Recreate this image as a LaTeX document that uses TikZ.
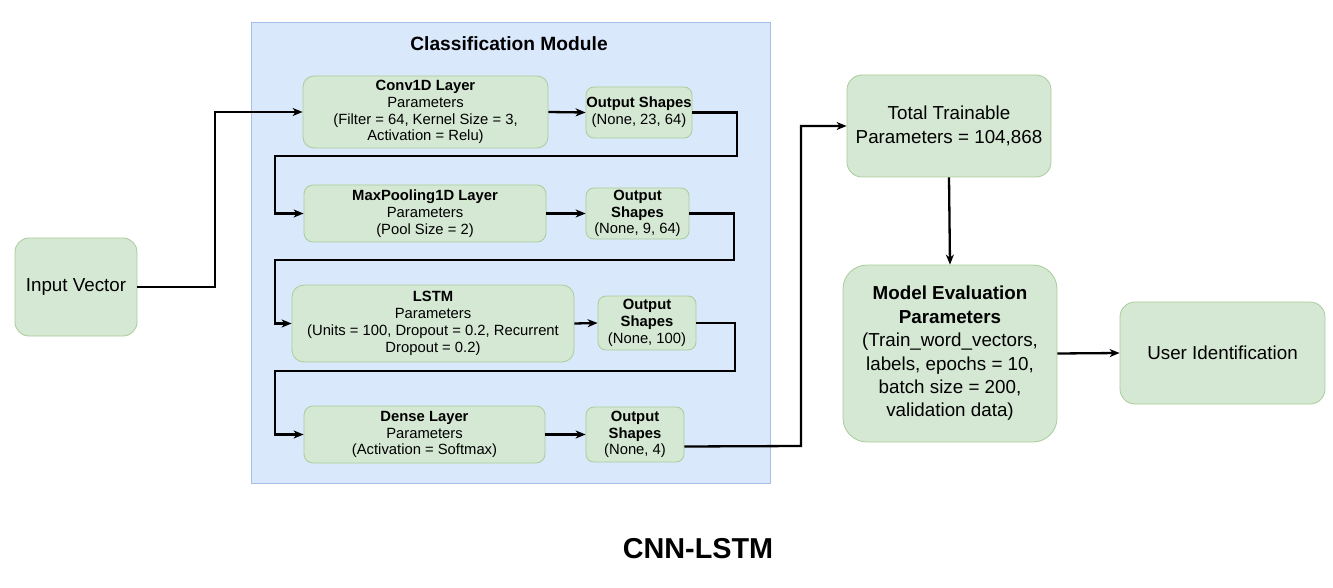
\documentclass[tikz,border=0pt]{standalone}
\usepackage{fontspec}
\setmainfont{Liberation Sans}
\usetikzlibrary{arrows.meta}
\definecolor{gfill}{HTML}{D5E8D4}
\definecolor{gline}{HTML}{A9CC98}
\definecolor{bfill}{HTML}{DAE8FC}
\definecolor{bline}{HTML}{A6BEE6}
\tikzset{
  gbox/.style={draw=gline, fill=gfill, line width=0.8pt, inner sep=0pt, align=center,
    font=\fontsize{14.8}{16.8}\selectfont},
  bigbox/.style={gbox, font=\fontsize{18.8}{23.4}\selectfont},
  conn/.style={line width=2.3pt, -{Stealth[length=10pt,width=8pt,inset=3pt]}},
}
\begin{document}
\begin{tikzpicture}[x=1pt,y=-1pt]
\useasboundingbox (0,0) rectangle (1333,588);
% classification module
\draw[draw=bline, fill=bfill, line width=0.8pt] (251,22) rectangle (770,483);
\node[font=\fontsize{19.2}{23}\selectfont\bfseries] (modtitle) at (509,44) {Classification Module};

\node[gbox, rounded corners=11pt, minimum width=245pt, minimum height=72pt] (conv) at (425.5,112)
  {\textbf{Conv1D Layer}\\Parameters\\(Filter = 64, Kernel Size = 3,\\Activation = Relu)};
\node[gbox, rounded corners=8pt, minimum width=106pt, minimum height=51pt] (o1) at (639,112.5)
  {\textbf{Output Shapes}\\(None, 23, 64)};
\node[gbox, rounded corners=9pt, minimum width=242pt, minimum height=57pt] (pool) at (425,213.5)
  {\textbf{MaxPooling1D Layer}\\Parameters\\(Pool Size = 2)};
\node[gbox, rounded corners=8pt, minimum width=103pt, minimum height=51pt] (o2) at (637.5,213.5)
  {\textbf{Output}\\\textbf{Shapes}\\(None, 9, 64)};
\node[gbox, rounded corners=12pt, minimum width=282pt, minimum height=77pt] (lstm) at (433,323.5)
  {\textbf{LSTM}\\Parameters\\(Units = 100, Dropout = 0.2, Recurrent\\Dropout = 0.2)};
\node[gbox, rounded corners=8pt, minimum width=98pt, minimum height=54pt] (o3) at (647,323)
  {\textbf{Output}\\\textbf{Shapes}\\(None, 100)};
\node[gbox, rounded corners=9pt, minimum width=241pt, minimum height=57pt] (dense) at (424.5,434.5)
  {\textbf{Dense Layer}\\Parameters\\(Activation = Softmax)};
\node[gbox, rounded corners=8pt, minimum width=98pt, minimum height=55pt] (o4) at (635,434.5)
  {\textbf{Output}\\\textbf{Shapes}\\(None, 4)};

% outside nodes
\node[bigbox, rounded corners=14pt, minimum width=122pt, minimum height=98pt] (input) at (76,287) {Input Vector};
\node[bigbox, rounded corners=15pt, minimum width=204pt, minimum height=102pt] (total) at (949,126)
  {Total Trainable\\Parameters = 104,868};
\node[bigbox, rounded corners=24pt, minimum width=214pt, minimum height=177pt] (eval) at (950,353.5)
  {\textbf{Model Evaluation}\\\textbf{Parameters}\\(Train\_word\_vectors,\\labels, epochs = 10,\\batch size = 200,\\validation data)};
\node[bigbox, rounded corners=15pt, minimum width=205pt, minimum height=102pt] (user) at (1222.5,353) {User Identification};

\node[font=\fontsize{28.8}{32}\selectfont\bfseries] (cap) at (698,549) {CNN-LSTM};

% connectors
\draw[conn] (input.east) -- (215,287) |- (conv.west);
\draw[conn] (conv.east) -- (o1.west);
\draw[conn] (o1.east) -- (737,112.5) -- (737,156) -- (275,156) |- (pool.west);
\draw[conn] (pool.east) -- (o2.west);
\draw[conn] (o2.east) -- (734,213.5) -- (734,260) -- (275,260) |- (lstm.west);
\draw[conn] (lstm.east) -- (o3.west);
\draw[conn] (o3.east) -- (735,323) -- (735,371) -- (275,371) |- (dense.west);
\draw[conn] (dense.east) -- (o4.west);
\draw[conn] ([yshift=-12pt]o4.east) -- (801,446) |- (total.west);
\draw[conn] (total.south) -- (eval.north);
\draw[conn] (eval.east) -- (user.west);
\end{tikzpicture}
\end{document}
